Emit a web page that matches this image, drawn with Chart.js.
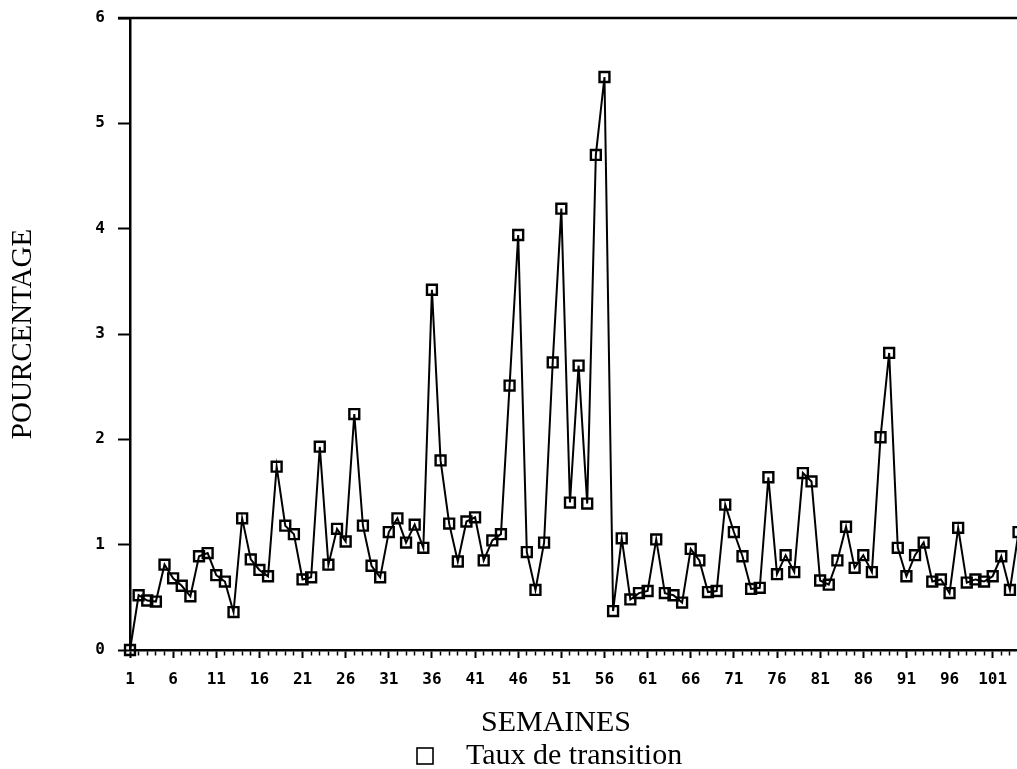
<!DOCTYPE html>
<html>
<head>
<meta charset="utf-8">
<script src="https://cdn.jsdelivr.net/npm/chart.js@4.4.1/dist/chart.umd.min.js"></script>
<style>
  html, body { margin: 0; padding: 0; background: #fff; overflow: hidden; }
  #wrap { position: relative; width: 1017px; height: 769px; }
</style>
</head>
<body>
<div id="wrap"><canvas id="c" width="1017" height="769"></canvas></div>
<script>
const weeks = [1,2,3,4,5,6,7,8,9,10,11,12,13,14,15,16,17,18,19,20,
  21,22,23,24,25,26,27,28,29,30,31,32,33,34,35,36,37,38,39,40,
  41,42,43,44,45,46,47,48,49,50,51,52,53,54,55,56,57,58,59,60,
  61,62,63,64,65,66,67,68,69,70,71,72,73,74,75,76,77,78,79,80,
  81,82,83,84,85,86,87,88,89,90,91,92,93,94,95,96,97,98,99,100,
  101,102,103,104];
const tauxTransition = [0.00,0.52,0.47,0.46,0.81,0.68,0.61,0.51,0.89,0.92,
  0.71,0.65,0.36,1.25,0.86,0.76,0.70,1.74,1.18,1.10,
  0.67,0.69,1.93,0.81,1.15,1.03,2.24,1.18,0.80,0.69,
  1.12,1.25,1.02,1.19,0.97,3.42,1.80,1.20,0.84,1.22,
  1.26,0.85,1.04,1.10,2.51,3.94,0.93,0.57,1.02,2.73,
  4.19,1.40,2.70,1.39,4.70,5.44,0.37,1.06,0.48,0.54,
  0.56,1.05,0.54,0.52,0.45,0.96,0.85,0.55,0.56,1.38,
  1.12,0.89,0.58,0.59,1.64,0.72,0.90,0.74,1.68,1.60,
  0.66,0.62,0.85,1.17,0.78,0.90,0.74,2.02,2.82,0.97,
  0.70,0.90,1.02,0.65,0.67,0.54,1.16,0.64,0.67,0.65,
  0.70,0.89,0.57,1.12];
const yTicks = [0,1,2,3,4,5,6];
const xLabelWeeks = [1,6,11,16,21,26,31,36,41,46,51,56,61,66,71,76,81,86,91,96,101];
const seriesName = "Taux de transition";
const xTitle = "SEMAINES";
const yTitle = "POURCENTAGE";

const points = weeks.map((w, i) => ({ x: w, y: tauxTransition[i] }));
const tickFont = { family: "'DejaVu Sans Mono', monospace", size: 16, weight: 'bold' };

const framePlugin = {
  id: 'frame',
  afterDraw(chart) {
    const { ctx, chartArea } = chart;
    ctx.save();
    ctx.strokeStyle = '#000';
    ctx.lineWidth = 2.5;
    ctx.beginPath();
    ctx.moveTo(chartArea.left - 12, chartArea.top);
    ctx.lineTo(chart.width, chartArea.top);
    ctx.stroke();
    ctx.fillStyle = '#000';
    ctx.font = "30px 'Liberation Serif', 'Times New Roman', serif";
    ctx.textAlign = 'center';
    ctx.textBaseline = 'alphabetic';
    ctx.fillText(xTitle, 556, 731);
    ctx.lineWidth = 1.6;
    ctx.strokeRect(417, 748, 16, 16);
    ctx.textAlign = 'left';
    ctx.fillText(seriesName, 466, 764);
    ctx.restore();
  }
};

new Chart(document.getElementById('c'), {
  type: 'line',
  data: {
    datasets: [{
      label: seriesName,
      data: points,
      borderColor: '#000',
      borderWidth: 2,
      pointStyle: 'rect',
      pointRadius: 7,
      pointBorderWidth: 2.4,
      pointBorderColor: '#000',
      pointBackgroundColor: 'rgba(0,0,0,0)',
      tension: 0,
      clip: false
    }]
  },
  options: {
    responsive: false,
    animation: false,
    layout: { autoPadding: false, padding: { top: 18, left: 0, right: 0, bottom: 0 } },
    plugins: { legend: { display: false }, tooltip: { enabled: false } },
    scales: {
      x: {
        type: 'linear',
        min: 1,
        max: 103.82,
        afterFit(scale) { scale.height = 119; scale.paddingLeft = 0; scale.paddingRight = 0; },
        border: { display: true, color: '#000', width: 2.5 },
        grid: {
          display: true,
          drawOnChartArea: false,
          tickLength: 8,
          tickColor: '#000',
          tickWidth: (c) => xLabelWeeks.includes(c.tick && c.tick.value) ? 2 : 1.5,
          tickBorderDash: (c) => xLabelWeeks.includes(c.tick && c.tick.value) ? [] : [4, 100]
        },
        ticks: {
          stepSize: 1,
          includeBounds: false,
          autoSkip: false,
          maxRotation: 0,
          padding: 12,
          color: '#000',
          font: tickFont,
          callback: (v) => xLabelWeeks.includes(v) ? String(v) : ''
        }
      },
      y: {
        min: 0,
        max: 6,
        afterFit(scale) { scale.width = 130; scale.paddingTop = 0; scale.paddingBottom = 0; },
        border: { display: true, color: '#000', width: 2.5 },
        grid: {
          display: true,
          drawOnChartArea: false,
          tickLength: 12,
          tickColor: '#000',
          tickWidth: 2
        },
        afterBuildTicks(scale) { scale.ticks = yTicks.map(v => ({ value: v })); },
        ticks: {
          padding: 13,
          color: '#000',
          font: tickFont
        },
        title: {
          display: true,
          text: yTitle,
          color: '#000',
          font: { family: "'Liberation Serif', 'Times New Roman', serif", size: 29 },
          padding: { top: 6, bottom: 0 }
        }
      }
    }
  },
  plugins: [framePlugin]
});
</script>
</body>
</html>
